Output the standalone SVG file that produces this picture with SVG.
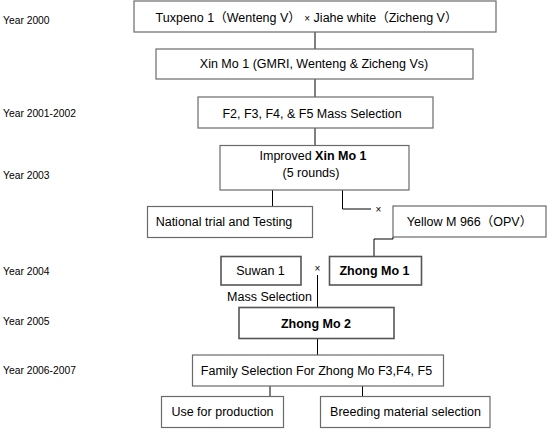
<svg xmlns="http://www.w3.org/2000/svg" width="560" height="435" viewBox="0 0 560 435">
<style>
text{font-family:"Liberation Sans",Arial,"Noto Sans CJK SC",sans-serif;fill:#000}
.box{fill:#fff;stroke:#6a6a6a;stroke-width:1.2}
.bx{fill:#fff;stroke:#555;stroke-width:1.6}
.t{font-size:12.5px;text-anchor:middle}
.y{font-size:10.3px}
.x{font-size:10px;text-anchor:middle}
.b{font-weight:bold}
.c{fill:none;stroke:#000;stroke-width:1}
</style>
<rect width="560" height="435" fill="#fff"/>
<g id="years">
<text class="y" x="3" y="23.5">Year 2000</text>
<text class="y" x="3" y="117">Year 2001-2002</text>
<text class="y" x="3" y="178.5">Year 2003</text>
<text class="y" x="3" y="274.5">Year 2004</text>
<text class="y" x="3" y="325">Year 2005</text>
<text class="y" x="3" y="373.5">Year 2006-2007</text>
</g>
<g id="connectors">
<path class="c" d="M315,32V49M315,79V97M315,128V145.5M272.5,190V206.5M342.5,190V209H371M393,237V239H374V256.5M317.5,275V307.5M317.5,338.5V355M270,386V396.5M362.5,386V396.5"/>
<text class="x" x="378.5" y="212.5">×</text>
<text class="x" x="317.5" y="272">×</text>
<text class="t" x="269.5" y="301">Mass Selection</text>
</g>
<g id="n1"><rect class="box" x="134" y="1" width="362" height="31"/>
<text class="t" x="306.5" y="22">Tuxpeno 1（Wenteng V） <tspan font-size="10px">×</tspan> Jiahe white（Zicheng V）</text></g>
<g id="n2"><rect class="box" x="156" y="49" width="317" height="30"/>
<text class="t" x="314" y="68">Xin Mo 1 (GMRI, Wenteng &amp; Zicheng Vs)</text></g>
<g id="n3"><rect class="box" x="198" y="97" width="235" height="31"/>
<text class="t" x="312" y="118">F2, F3, F4, &amp; F5 Mass Selection</text></g>
<g id="n4"><rect class="box" x="220" y="145.5" width="189" height="44.5"/>
<text class="t" x="313" y="159.5">Improved <tspan class="b">Xin Mo 1</tspan></text>
<text class="t" x="311" y="177">(5 rounds)</text></g>
<g id="n5"><rect class="box" x="147.5" y="206.5" width="165" height="31"/>
<text class="t" x="224" y="226">National trial and Testing</text></g>
<g id="n6"><rect class="box" x="393" y="206" width="153" height="31"/>
<text class="t" x="469.5" y="226">Yellow M 966（OPV）</text></g>
<g id="n7"><rect class="bx" x="221" y="256.5" width="80" height="28.5"/>
<text class="t" x="260.5" y="275">Suwan 1</text></g>
<g id="n8"><rect class="bx" x="329.5" y="256.5" width="92" height="28.5"/>
<text class="t b" x="374.5" y="275">Zhong Mo 1</text></g>
<g id="n9"><rect class="bx" x="239" y="307.5" width="155" height="31"/>
<text class="t b" x="316" y="328">Zhong Mo 2</text></g>
<g id="n10"><rect class="box" x="192.5" y="355" width="251" height="31"/>
<text class="t" x="316.5" y="375">Family Selection For Zhong Mo F3,F4, F5</text></g>
<g id="n11"><rect class="box" x="161.5" y="396.5" width="122" height="31"/>
<text class="t" x="222.5" y="416">Use for production</text></g>
<g id="n12"><rect class="box" x="320.5" y="396.5" width="169.5" height="31"/>
<text class="t" x="405.5" y="416">Breeding material selection</text></g>
</svg>
